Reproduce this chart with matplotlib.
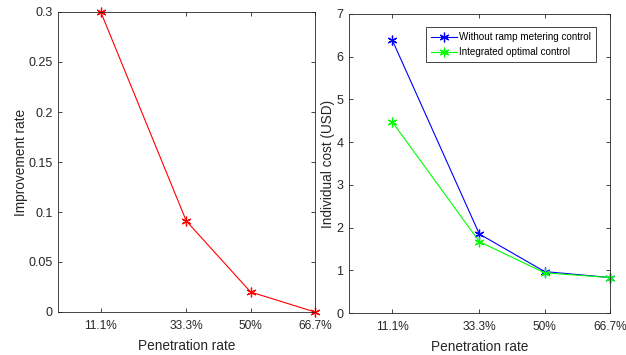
import matplotlib
matplotlib.use("Agg")
import matplotlib.pyplot as plt

penetration = [11.1, 33.3, 50, 66.7]
tick_labels = ["11.1%", "33.3%", "50%", "66.7%"]
improvement = [0.3, 0.091, 0.020, 0.0]
cost_without = [6.38, 1.85, 0.97, 0.83]
cost_integrated = [4.47, 1.67, 0.94, 0.83]

plt.rcParams['font.family'] = ['Liberation Sans', 'DejaVu Sans']
plt.rcParams['font.size'] = 9

fig = plt.figure(figsize=(6.26, 3.55), dpi=100)
W, H = 626, 355
ax1 = fig.add_axes([58 / W, 1 - 312 / H, (315 - 58) / W, (312 - 12) / H])
ax2 = fig.add_axes([349 / W, 1 - 313 / H, (610 - 349) / W, (313 - 14) / H])

star = (6, 2, 0)
for ax in (ax1, ax2):
    ax.tick_params(direction='in', top=True, right=True, length=3, width=0.6,
                   colors='#262626', labelsize=9, pad=4)
    ax.tick_params(axis='x', pad=6, labelsize=8.6)
    for s in ax.spines.values():
        s.set_linewidth(0.6)
        s.set_color('#262626')
    ax.set_xlim(0, 66.7)
    ax.set_xticks(penetration)
    ax.set_xticklabels(tick_labels)
    ax.set_xlabel("Penetration rate", fontsize=9.8, color='#262626', labelpad=5)

ax1.plot(penetration, improvement, color='red', marker=star, markersize=7,
         linewidth=0.8, markeredgewidth=0.9, clip_on=False)
ax1.set_ylim(0, 0.3)
ax1.set_yticks([0, 0.05, 0.1, 0.15, 0.2, 0.25, 0.3])
ax1.set_yticklabels(["0", "0.05", "0.1", "0.15", "0.2", "0.25", "0.3"])
ax1.set_ylabel("Improvement rate", fontsize=9.8, color='#262626', labelpad=0)

ax2.plot(penetration, cost_without, color='blue', marker=star, markersize=7,
         linewidth=0.8, markeredgewidth=0.9, clip_on=False,
         label="Without ramp metering control")
ax2.plot(penetration, cost_integrated, color='#00ff00', marker=star, markersize=7,
         linewidth=0.8, markeredgewidth=0.9, clip_on=False,
         label="Integrated optimal control")
ax2.set_ylim(0, 7)
ax2.set_yticks(range(0, 8))
ax2.set_ylabel("Individual cost (USD)", fontsize=9.8, color='#262626', labelpad=1)
leg = ax2.legend(loc='upper right', bbox_to_anchor=(0.945, 0.956), fontsize=7.1,
                 fancybox=False, edgecolor='#262626', framealpha=1,
                 handlelength=2.6, borderpad=0.5, labelspacing=0.5, handletextpad=0.2,
                 borderaxespad=0)
leg.get_frame().set_linewidth(0.6)

fig.savefig("out.png", dpi=100)
